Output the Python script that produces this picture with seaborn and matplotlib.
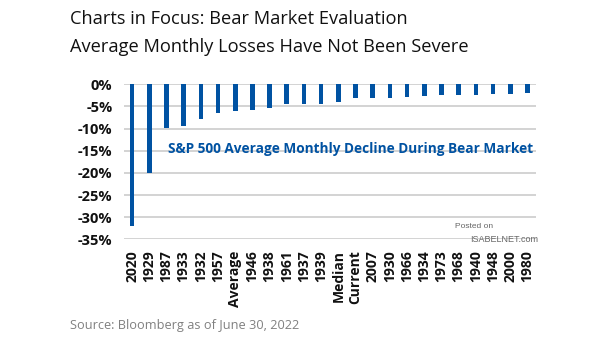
import matplotlib
matplotlib.use("Agg")
import matplotlib.pyplot as plt
import seaborn as sns
import pandas as pd

categories = ["2020", "1929", "1987", "1933", "1932", "1957", "Average", "1946",
              "1938", "1961", "1937", "1939", "Median", "Current", "2007", "1930",
              "1966", "1934", "1973", "1968", "1940", "1948", "2000", "1980"]
values = [-32.0, -20.0, -9.9, -9.4, -7.8, -6.5, -6.0, -5.9,
          -5.4, -4.4, -4.4, -4.4, -4.0, -3.2, -3.2, -3.2,
          -2.9, -2.7, -2.4, -2.4, -2.4, -2.2, -2.2, -2.0]
y_ticks = [0, -5, -10, -15, -20, -25, -30, -35]
y_tick_labels = ["0%", "-5%", "-10%", "-15%", "-20%", "-25%", "-30%", "-35%"]

title_1 = "Charts in Focus: Bear Market Evaluation"
title_2 = "Average Monthly Losses Have Not Been Severe"
annotation = "S&P 500 Average Monthly Decline During Bear Market"
source = "Source: Bloomberg as of June 30, 2022"

sns.set_theme(style="white")
plt.rcParams["font.family"] = ["Open Sans", "DejaVu Sans"]

BLUE = "#0052A2"

df = pd.DataFrame({"period": categories, "decline": values})

fig = plt.figure(figsize=(6.05, 3.41), dpi=100)
ax = fig.add_axes([123.5 / 605, 1 - 239.3 / 341, (536 - 123.5) / 605, (239.3 - 84.3) / 341])

sns.barplot(data=df, x="period", y="decline", color=BLUE, width=0.27,
            saturation=1, ax=ax, zorder=3, edgecolor=BLUE, linewidth=0)

ax.set_ylim(-35, 0)
ax.set_xlim(-0.5, len(categories) - 0.5)
ax.set_yticks(y_ticks)
ax.set_yticklabels(y_tick_labels)
ax.yaxis.grid(True, color="#c8c8c8", linewidth=1.1, zorder=0)
ax.set_axisbelow(True)
for s in ax.spines.values():
    s.set_visible(False)
ax.set_xlabel("")
ax.set_ylabel("")
ax.tick_params(axis="y", length=0, pad=8, labelsize=10.5, colors="#111111")
ax.tick_params(axis="x", length=0, pad=8, labelsize=10, colors="#111111", rotation=90)
for lab in ax.get_xticklabels() + ax.get_yticklabels():
    lab.set_fontweight("bold")

ax.text(2.1, -14.7, annotation, color=BLUE, fontsize=9.8, fontweight="bold",
        va="center", ha="left", transform=ax.transData)

fig.text(70 / 605, 1 - 19 / 341, title_1, fontsize=13.15, color="#111111",
         fontweight="medium", va="center", ha="left")
fig.text(70 / 605, 1 - 47 / 341, title_2, fontsize=13.15, color="#111111",
         fontweight="medium", va="center", ha="left")
fig.text(70 / 605, 1 - 325 / 341, source, fontsize=9.2, color="#808080", va="center", ha="left")

fig.text(455 / 605, 1 - 227 / 341, "Posted on", fontsize=6, color="#666666",
         family=["Liberation Sans", "DejaVu Sans"], va="center", ha="left")
fig.text(470 / 605, 1 - 239 / 341, "ISABELNET.com", fontsize=6.5, color="#666666",
         family=["Liberation Sans", "DejaVu Sans"], va="center", ha="left")

fig.savefig("out.png", dpi=100)
